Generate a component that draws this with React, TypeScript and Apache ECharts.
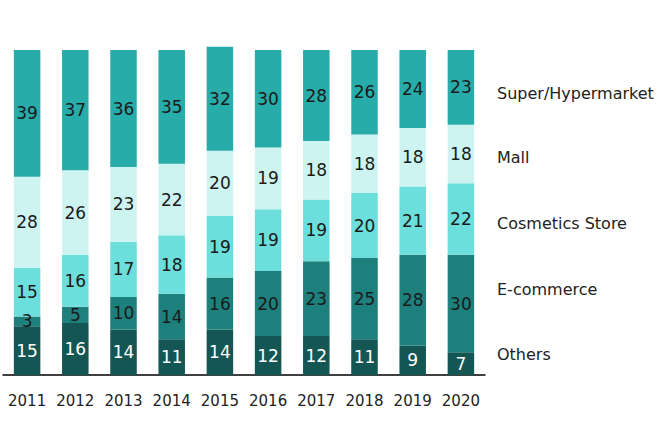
import React, { useEffect, useRef } from "react";
import * as echarts from "echarts";

const years = ["2011", "2012", "2013", "2014", "2015", "2016", "2017", "2018", "2019", "2020"];
const seriesNames = ["Others", "E-commerce", "Cosmetics Store", "Mall", "Super/Hypermarket"];
const others = [15, 16, 14, 11, 14, 12, 12, 11, 9, 7];
const ecommerce = [3, 5, 10, 14, 16, 20, 23, 25, 28, 30];
const cosmetics = [15, 16, 17, 18, 19, 19, 19, 20, 21, 22];
const mall = [28, 26, 23, 22, 20, 19, 18, 18, 18, 18];
const superHyper = [39, 37, 36, 35, 32, 30, 28, 26, 24, 23];
const colors = ["#135654", "#1E807D", "#6CDFDC", "#CEF4F2", "#27ACA9"];
const labelColors = ["#ffffff", "#1a1a1a", "#1a1a1a", "#1a1a1a", "#1a1a1a"];
const legendY = [354, 289, 223, 157, 93];

const FONT = "DejaVu Sans";

export default function App() {
  const ref = useRef<HTMLDivElement>(null);
  useEffect(() => {
    if (!ref.current) return;
    const chart = echarts.init(ref.current, null, { renderer: "svg" });
    const data = [others, ecommerce, cosmetics, mall, superHyper];
    chart.setOption({
      animation: false,
      grid: { left: 3, right: 175, top: 46.75, bottom: 65 },
      xAxis: {
        type: "category",
        data: years,
        axisLine: { lineStyle: { color: "#000", width: 1.5 } },
        axisTick: { show: false },
        axisLabel: { interval: 0, color: "#222", fontFamily: FONT, fontSize: 15, margin: 18 },
      },
      yAxis: { type: "value", min: 0, max: 101, show: false, splitLine: { show: false } },
      series: seriesNames.map((name, i) => ({
        name,
        type: "bar",
        stack: "total",
        barCategoryGap: "45%",
        data: data[i],
        itemStyle: { color: colors[i] },
        label: {
          show: true,
          position: "inside",
          color: labelColors[i],
          fontFamily: FONT,
          fontSize: 17,
        },
      })),
      graphic: seriesNames.map((name, i) => ({
        type: "text",
        x: 497,
        y: legendY[i],
        style: {
          text: name,
          fill: "#222",
          font: `16px "${FONT}"`,
          verticalAlign: "middle",
          align: "left",
        },
      })),
    });
    return () => chart.dispose();
  }, []);
  return <div ref={ref} style={{ width: 660, height: 440, position: "absolute", left: 0, top: 0 }} />;
}
